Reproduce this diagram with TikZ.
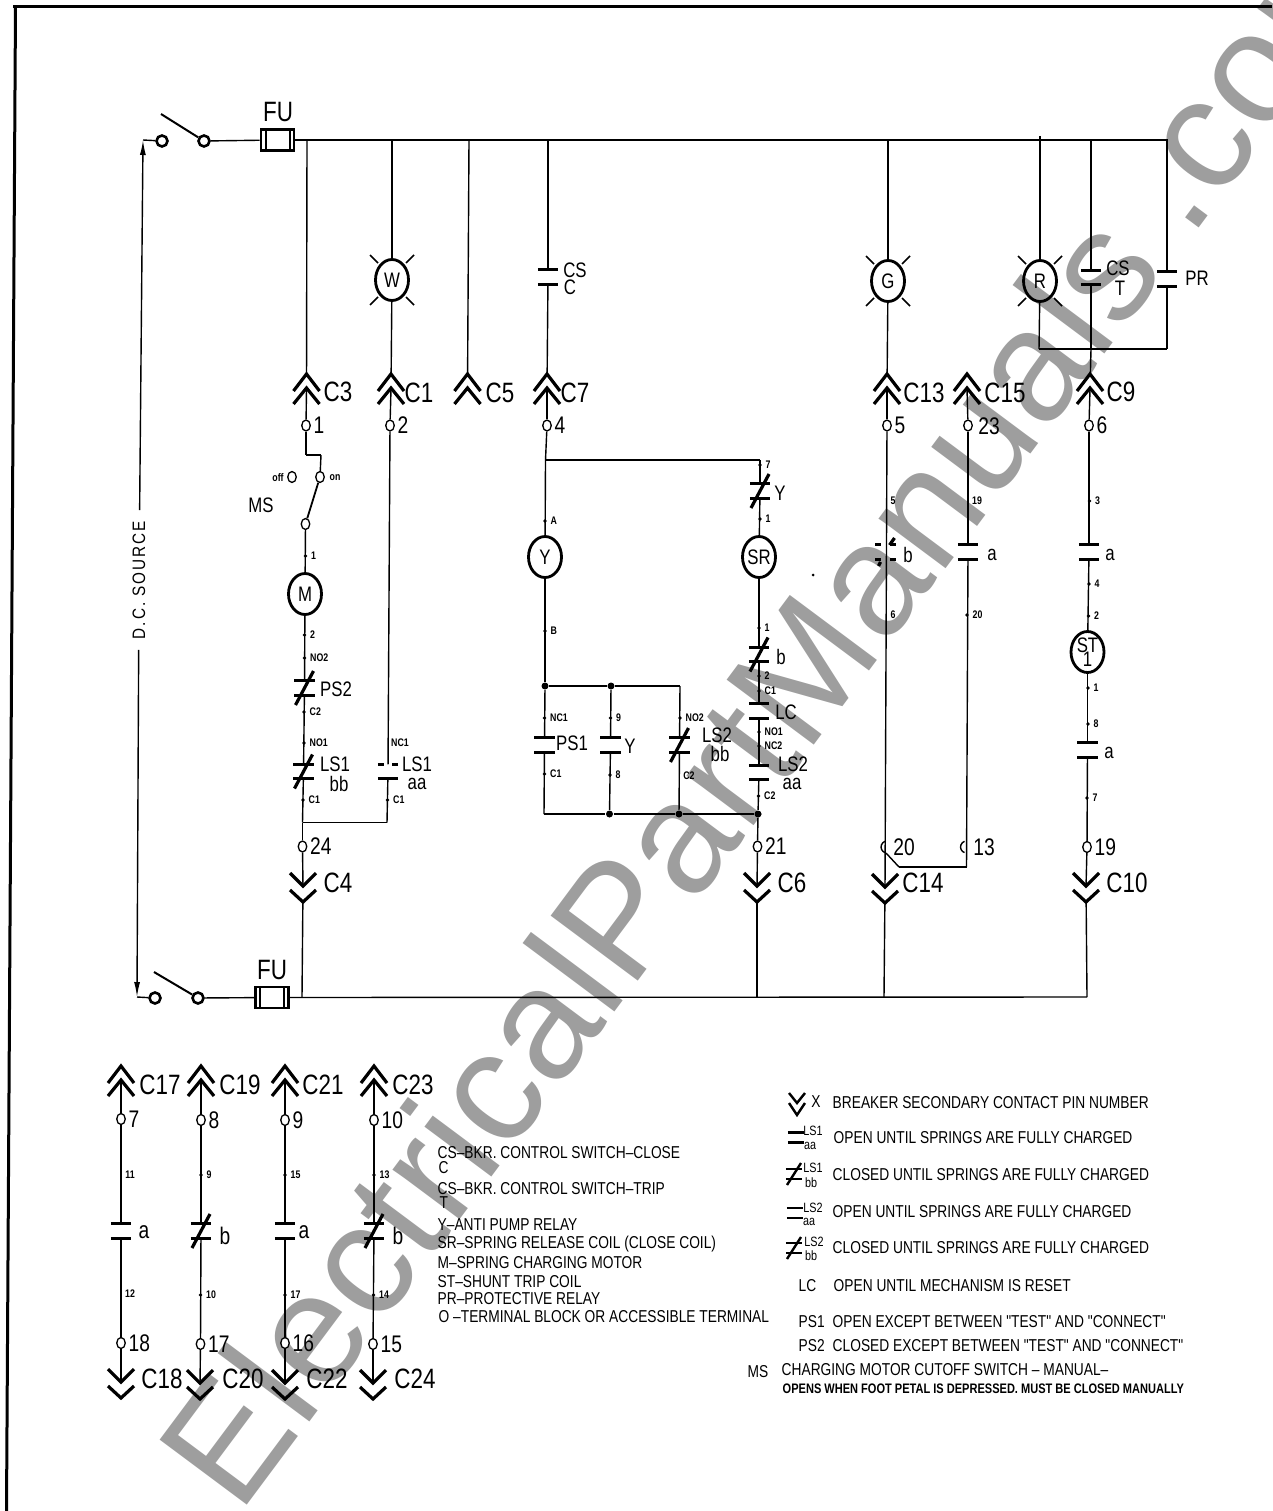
\documentclass[tikz,border=0pt]{standalone}
\usepackage{fontspec}
\setmainfont{Liberation Sans}
\newfontfamily\isofont[FakeStretch=0.8]{Liberation Sans}
\newfontfamily\markfont[LetterSpace=0.8]{Liberation Sans}
\newfontfamily\sidefont[FakeStretch=0.85,LetterSpace=11]{Liberation Sans}
\usetikzlibrary{shapes.geometric,arrows.meta}
\definecolor{markgray}{gray}{0.62}
\begin{document}
\begin{tikzpicture}[x=1pt, y=-1pt, line width=1.4pt, label distance=2pt,
	heavy/.style = {line width=3.2pt},
	lab/.style = {inner sep=0, font=\isofont\fontsize{28}{28}\selectfont},
	num/.style = {inner sep=0, font=\isofont\fontsize{24}{24}\selectfont},
	tag/.style = {inner sep=0, font=\isofont\fontsize{21}{21}\selectfont},
	pinl/.style = {inner sep=0.5pt, font=\isofont\bfseries\fontsize{11}{11}\selectfont},
	msg/.style = {anchor=west, inner sep=0, font=\isofont\fontsize{17.2}{17.2}\selectfont},
	smalltag/.style = {inner sep=0, font=\isofont\fontsize{13.5}{13.5}\selectfont},
	pindot/.style = {circle, fill, inner sep=0, minimum size=3.6pt},
	jdot/.style = {circle, fill, inner sep=0, minimum size=7pt},
	term/.style = {draw, ellipse, fill=white, inner sep=0, line width=1.3pt, minimum width=8.5pt, minimum height=11pt},
	swt/.style = {draw, circle, fill=white, inner sep=0, line width=2.6pt, minimum size=11pt},
	coil/.style = {draw, ellipse, inner sep=0, line width=2.8pt, minimum width=33pt, minimum height=41pt, align=center, font=\isofont\fontsize{21}{21}\selectfont},
	lamp/.style = {coil, append after command={\pgfextra{
		\draw[line width=1.7pt] (\tikzlastnode.center) +(-22,-25) -- +(-14,-17) +(22,-25) -- +(14,-17) +(-22,25) -- +(-14,17) +(22,25) -- +(14,17);}}},
	fuse/.style = {draw, rectangle, inner sep=0, line width=2.6pt, minimum width=33pt, minimum height=21pt, append after command={\pgfextra{
		\draw[line width=2pt] (\tikzlastnode.center) +(-12,-10) -- +(-12,10) +(12,-10) -- +(12,10);}}},
	make/.style = {inner sep=0, minimum width=19pt, minimum height=13pt, append after command={\pgfextra{
		\draw[heavy] (\tikzlastnode.north west) -- (\tikzlastnode.north east) (\tikzlastnode.south west) -- (\tikzlastnode.south east);}}},
	brk/.style = {make, append after command={\pgfextra{
		\draw[heavy] (\tikzlastnode.center) +(9,-17) -- +(-9,17);}}},
	opn/.style = {inner sep=0, minimum width=19pt, minimum height=13pt, append after command={\pgfextra{
		\draw[heavy] (\tikzlastnode.north west) -- +(6,0) (\tikzlastnode.north east) -- +(-6,0) (\tikzlastnode.south west) -- (\tikzlastnode.south east);}}},
	gapb/.style = {inner sep=0, minimum width=19pt, minimum height=13pt, append after command={\pgfextra{
		\draw[heavy] (\tikzlastnode.north west) -- +(6,0) (\tikzlastnode.north east) -- +(-6,0) (\tikzlastnode.south west) -- +(6,0) (\tikzlastnode.south east) -- +(-6,0);
		\draw[heavy] (\tikzlastnode.center) +(9,-14) -- +(4,-7) +(-5,10) -- +(-7,14);}}},
	lgmake/.style = {inner sep=0, minimum width=15pt, minimum height=8.5pt, append after command={\pgfextra{
		\draw[line width=2.4pt] (\tikzlastnode.north west) -- (\tikzlastnode.north east) (\tikzlastnode.south west) -- (\tikzlastnode.south east);}}},
	lgbrk/.style = {lgmake, append after command={\pgfextra{
		\draw[line width=2.4pt] (\tikzlastnode.center) +(7,-11) -- +(-7,11);}}},
	chup/.style = {inner sep=0, minimum width=26pt, minimum height=30pt, append after command={\pgfextra{
		\draw[heavy] (\tikzlastnode.center) +(-13,2) -- +(0,-15) -- +(13,2) +(-13,15) -- +(0,-1) -- +(13,15);}}},
	chdn/.style = {inner sep=0, minimum width=26pt, minimum height=30pt, append after command={\pgfextra{
		\draw[heavy] (\tikzlastnode.center) +(-13,-14) -- +(0,-1) -- +(13,-14) +(-13,3) -- +(0,15) -- +(13,3);}}},
	lgdn/.style = {inner sep=0, minimum width=18pt, minimum height=22pt, append after command={\pgfextra{
		\draw[line width=2.4pt] (\tikzlastnode.center) +(-8,-11) -- +(0,-1) -- +(8,-11) +(-8,-1) -- +(0,11) -- +(8,-1);}}}]
	\useasboundingbox (0,0) rectangle (1272,1511);
	% watermark
	\begin{scope}
		\clip (0,0) rectangle (1272,1511);
		\node[anchor=base west, inner sep=0, rotate=53.3, text=markgray, font=\markfont\fontsize{158}{158}\selectfont] (wm) at (239.4,1516) {ElectricalPartManuals\kern38pt.com};
	\end{scope}
	% sheet edge
	\coordinate (fr1) at (1272,6.5);
	\coordinate (fr2) at (13,6.5);
	\coordinate (fr3) at (6.5,1511);
	\draw[line width=3pt] (fr1) -- (fr2);
	\draw[line width=3pt] (15.5,6.5) -- (fr3);
	% top source line
	\node[swt] (sw1a) at (162,141) {};
	\node[swt] (sw1b) at (204,141) {};
	\coordinate (sw1c) at (161,114);
	\draw[line width=2pt] (sw1c) -- (sw1b);
	\coordinate (src1) at (143,140);
	\coordinate (src2) at (137,997);
	\node[fuse] (fu1) at (277.5,140) {};
	\node[lab] (fu1t) at (278,112) {FU};
	\coordinate (bus1e) at (1168,140);
	\draw (src1) -- (sw1a);
	\draw (sw1b) -- (fu1);
	\draw (fu1) -- (bus1e);
	\node[rotate=90, inner sep=10pt, font=\sidefont\fontsize{18}{18}\selectfont] (dcs) at (139,580) {D.C. SOURCE};
	\draw[{Latex[length=15pt,width=6pt]}-] (src1) -- (dcs);
	\draw[-{Latex[length=15pt,width=6pt]}] (dcs) -- (src2);
	% bottom source line
	\node[swt] (sw2a) at (155,998) {};
	\node[swt] (sw2b) at (198,998) {};
	\coordinate (sw2c) at (154,972);
	\draw[line width=2pt] (sw2c) -- (sw2b);
	\node[fuse] (fu2) at (272,997.5) {};
	\node[lab] (fu2t) at (272,970) {FU};
	\coordinate (bus2e) at (1087,997);
	\draw (src2) -- (sw2a);
	\draw (sw2b) -- (fu2);
	\draw (fu2) -- (bus2e);
	% motor branch
	\coordinate (b3) at (307,140);
	\node[chup] (c3) at (306.5,389) {};
	\node[lab] (c3t) at (338,392) {C3};
	\node[term, label={[num]right:1}] (t1) at (306,425.5) {};
	\coordinate (jog3a) at (306,455);
	\coordinate (jog3b) at (321,455);
	\node[term] (ton) at (320,477) {};
	\node[term] (toff) at (292,477) {};
	\node[term] (tms) at (305.5,524) {};
	\node[pinl] (ontx) at (335,478) {on};
	\node[pinl] (offtx) at (278,478) {off};
	\node[tag] (mst) at (261,505) {MS};
	\node[coil] (m) at (305,594) {M};
	\node[pindot, label={[pinl]right:1}] (pm1) at (305.5,556) {};
	\node[pindot, label={[pinl]right:2}] (pm2) at (304.5,635) {};
	\node[pindot, label={[pinl]right:NO2}] (pm3) at (304.5,658) {};
	\node[brk] (ps2) at (304.5,688) {};
	\node[tag] (ps2t) at (336,689) {PS2};
	\node[pindot, label={[pinl]right:C2}] (pm4) at (304,712) {};
	\node[pindot, label={[pinl]right:NO1}] (pm5) at (304,743) {};
	\node[brk] (ls1b) at (303.5,771.5) {};
	\node[tag] (ls1bt) at (335,764) {LS1};
	\node[tag] (ls1bu) at (339,784) {bb};
	\node[pindot, label={[pinl]right:C1}] (pm6) at (303,800) {};
	\coordinate (j24) at (302.5,822.5);
	\node[term, label={[num]right:24}] (t24) at (302.5,846.5) {};
	\node[chdn] (c4) at (303,887) {};
	\node[lab] (c4t) at (338,883) {C4};
	\coordinate (b4) at (302,997);
	\draw (b3) -- (c3);
	\draw (c3.center) -- (t1);
	\draw (t1) -- (jog3a);
	\draw (jog3a) -- (jog3b);
	\draw (jog3b) -- (ton);
	\draw[line width=1.8pt] (ton) -- (tms);
	\draw (tms) -- (m);
	\draw (m) -- (ps2);
	\draw (ps2) -- (ls1b);
	\draw (ls1b) -- (j24);
	\draw (j24) -- (t24);
	\draw (t24) -- (c4.center);
	\draw (c4) -- (b4);
	% white lamp branch
	\coordinate (b1) at (392,140);
	\node[lamp] (w) at (392,280) {W};
	\node[chup] (c1) at (391,389) {};
	\node[lab] (c1t) at (419,393) {C1};
	\node[term, label={[num]right:2}] (t2) at (390,425.5) {};
	\node[opn] (ls1a) at (388,771.5) {};
	\node[tag] (ls1at) at (417,764) {LS1};
	\node[tag] (ls1au) at (417,784) {aa};
	\node[pinl] (pw1) at (400,743) {NC1};
	\node[pindot, label={[pinl]right:C1}] (pw2) at (387.5,800) {};
	\coordinate (jw) at (387,822.5);
	\draw (b1) -- (w);
	\draw (w) -- (c1);
	\draw (c1.center) -- (t2);
	\draw (t2) -- (ls1a);
	\draw (ls1a) -- (jw);
	\draw (jw) -- (j24);
	% C5 branch
	\coordinate (b5) at (469,140);
	\node[chup] (c5) at (467.5,389) {};
	\node[lab] (c5t) at (500,393) {C5};
	\draw (b5) -- (c5);
	% closing branch
	\coordinate (b7) at (548,140);
	\node[make] (csc) at (548,277) {};
	\node[tag] (csct) at (575,270) {CS};
	\node[tag] (cscu) at (570,287) {C};
	\node[chup] (c7) at (547,389) {};
	\node[lab] (c7t) at (575,393) {C7};
	\node[term, label={[num]right:4}] (t4) at (547,425.5) {};
	\coordinate (j7) at (545.5,460);
	\coordinate (j7r) at (760,460);
	\node[pindot, label={[pinl]right:7}] (py1) at (760,465) {};
	\node[brk] (ycon) at (760,491) {};
	\node[tag] (ycont) at (780,493) {Y};
	\node[pindot, label={[pinl]right:1}] (py2) at (760,519) {};
	\node[coil] (sr) at (759,557) {SR};
	\node[pindot, label={[pinl]right:1}] (py3) at (759,628) {};
	\node[brk] (srb) at (759,654.5) {};
	\node[tag] (srbt) at (781,657) {b};
	\node[pindot, label={[pinl]right:2}] (py4) at (759,676) {};
	\node[pindot, label={[pinl]right:C1}] (py5) at (759,691) {};
	\node[make] (lc) at (759,711) {};
	\node[tag] (lct) at (786,712) {LC};
	\node[pindot, label={[pinl]right:NO1}] (py6) at (759,732) {};
	\node[pindot, label={[pinl]right:NC2}] (py7) at (759,746) {};
	\node[make] (ls2a) at (759,772.5) {};
	\node[tag] (ls2at) at (793,764) {LS2};
	\node[tag] (ls2au) at (792,784) {aa};
	\node[pindot, label={[pinl]right:C2}] (py8) at (758.5,796) {};
	\node[jdot] (j21) at (758,814) {};
	\node[term, label={[num]right:21}] (t21) at (757.5,846.5) {};
	\node[chdn] (c6) at (757,887) {};
	\node[lab] (c6t) at (792,883) {C6};
	\coordinate (b6) at (757,997);
	\node[coil] (y) at (545,557) {Y};
	\node[pindot, label={[pinl]right:A}] (pa) at (545,521) {};
	\node[pindot, label={[pinl]right:B}] (pb) at (545,631) {};
	\node[jdot] (jy1) at (545,686) {};
	\node[jdot] (jy2) at (611,686) {};
	\coordinate (jy3) at (680,686);
	\node[pindot, label={[pinl]right:NC1}] (pp1) at (544.5,718) {};
	\node[make] (ps1) at (544.5,745) {};
	\node[tag] (ps1t) at (572,743) {PS1};
	\node[pindot, label={[pinl]right:C1}] (pp2) at (544.5,774) {};
	\coordinate (jb1) at (544,814);
	\node[pindot, label={[pinl]right:9}] (pq1) at (610.5,718) {};
	\node[make] (yc2) at (610.5,745) {};
	\node[tag] (yc2t) at (630,746) {Y};
	\node[pindot, label={[pinl]right:8}] (pq2) at (610,775) {};
	\node[jdot] (jb2) at (609.5,814) {};
	\node[pindot, label={[pinl]right:NO2}] (pr1) at (680,718) {};
	\node[brk] (ls2b) at (679.5,745) {};
	\node[tag] (ls2bt) at (717,735) {LS2};
	\node[tag] (ls2bu) at (720,754) {bb};
	\node[pinl] (pr2) at (689,776) {C2};
	\node[jdot] (jb3) at (679,814) {};
	\draw (b7) -- (csc);
	\draw (csc) -- (c7);
	\draw (c7.center) -- (t4);
	\draw (t4) -- (j7);
	\draw (j7) -- (j7r);
	\draw (j7r) -- (ycon);
	\draw (ycon) -- (sr);
	\draw (sr) -- (srb);
	\draw (srb) -- (lc);
	\draw (lc) -- (ls2a);
	\draw (ls2a) -- (j21);
	\draw (j21) -- (t21);
	\draw (t21) -- (c6.center);
	\draw (c6) -- (b6);
	\draw (j7) -- (y);
	\draw (y) -- (jy1);
	\draw (jy1) -- (jy2);
	\draw (jy2) -- (jy3);
	\draw (jy1) -- (ps1);
	\draw (ps1) -- (jb1);
	\draw (jy2) -- (yc2);
	\draw (yc2) -- (jb2);
	\draw (jy3) -- (ls2b);
	\draw (ls2b) -- (jb3);
	\draw (jb1) -- (jb2);
	\draw (jb2) -- (jb3);
	\draw (jb3) -- (j21);
	\node[circle, fill, inner sep=0, minimum size=3pt] (spk) at (813,575) {};
	% green lamp branch
	\coordinate (b13) at (888,140);
	\node[lamp] (g) at (888,281) {G};
	\node[chup] (c13) at (887,389) {};
	\node[lab] (c13t) at (924,393) {C13};
	\node[term, label={[num]right:5}] (t5) at (887,425.5) {};
	\node[pinl] (pg1) at (893,501) {5};
	\node[gapb] (gb) at (885.5,552) {};
	\node[tag] (gbt) at (908,555) {b};
	\node[pinl] (pg2) at (893,615) {6};
	\node[chdn] (c14) at (885,888) {};
	\node[lab] (c14t) at (923,883) {C14};
	\node[num] (t20t) at (904,847) {20};
	\coordinate (t20a) at (886,853);
	\coordinate (b14) at (884,997);
	\draw (b13) -- (g);
	\draw (g) -- (c13);
	\draw (c13.center) -- (t5);
	\draw (t5) -- (c14.center);
	\draw (c14) -- (b14);
	\draw (885,852.6) arc (110:250:6);
	% C15 branch
	\node[chup] (c15) at (967,389) {};
	\node[lab] (c15t) at (1005,393) {C15};
	\node[term] (t23) at (968,425.5) {};
	\node[num] (t23t) at (989,426) {23};
	\node[pinl] (pc1) at (977,501) {19};
	\node[make] (cona) at (968,552) {};
	\node[tag] (conat) at (992,555) {a};
	\node[pindot, label={[pinl]right:20}] (pc2) at (967,615) {};
	\node[num] (t13t) at (984,847) {13};
	\coordinate (j13) at (966.5,867);
	\coordinate (j13b) at (899,867);
	\draw (c15.center) -- (t23);
	\draw (t23) -- (cona);
	\draw (cona) -- (j13);
	\draw (j13) -- (j13b);
	\draw (j13b) -- (t20a);
	\draw (964.5,852.6) arc (110:250:6);
	% red lamp and trip branch
	\coordinate (b9a) at (1040,136);
	\coordinate (b9b) at (1091,140);
	\coordinate (b9c) at (1167,140);
	\node[lamp] (r) at (1040,281) {R};
	\node[make] (cst) at (1091,277.5) {};
	\node[tag] (cstt) at (1118,268) {CS};
	\node[tag] (cstu) at (1120,288) {T};
	\node[make] (pr) at (1167,279) {};
	\node[tag] (prt) at (1197,278) {PR};
	\coordinate (jr1) at (1039,349);
	\coordinate (jr2) at (1091,349);
	\coordinate (jr3) at (1167,349);
	\node[chup] (c9) at (1090,389) {};
	\node[lab] (c9t) at (1121,392) {C9};
	\node[term, label={[num]right:6}] (t6) at (1089,425.5) {};
	\node[pindot, label={[pinl]right:3}] (ps3) at (1089.5,501) {};
	\node[make] (st1a) at (1089,552) {};
	\node[tag] (st1at) at (1110,555) {a};
	\node[pindot, label={[pinl]right:4}] (ps4) at (1089,584) {};
	\node[pindot, label={[pinl]right:2}] (ps5) at (1088.5,616) {};
	\node[coil] (st) at (1087.5,652) {ST\\[-7pt]1};
	\node[pindot, label={[pinl]right:1}] (ps6) at (1088,688) {};
	\node[pindot, label={[pinl]right:8}] (ps7) at (1088,724) {};
	\node[make] (st1b) at (1087.5,750) {};
	\node[tag] (st1bt) at (1109,753) {a};
	\node[pindot, label={[pinl]right:7}] (ps8) at (1087,798) {};
	\node[term, label={[num]right:19}] (t19) at (1087,847) {};
	\node[chdn] (c10) at (1086,887) {};
	\node[lab] (c10t) at (1127,883) {C10};
	\draw (b9a) -- (r);
	\draw (r) -- (jr1);
	\draw (b9b) -- (cst);
	\draw (cst) -- (jr2);
	\draw (b9c) -- (pr);
	\draw (pr) -- (jr3);
	\draw (jr1) -- (jr3);
	\draw (jr2) -- (c9);
	\draw (c9.center) -- (t6);
	\draw (t6) -- (st1a);
	\draw (st1a) -- (st);
	\draw (st) -- (st1b);
	\draw (st1b) -- (t19);
	\draw (t19) -- (c10.center);
	\draw (c10) -- (bus2e);
	% spare contacts
	\node[chup] (c17) at (121,1081) {};
	\node[lab] (c17t) at (160,1085) {C17};
	\node[term, label={[num]right:7}] (t7) at (121,1119) {};
	\node[pinl] (a11) at (130,1175) {11};
	\node[make] (ca1) at (121,1231) {};
	\node[num] (ca1t) at (144,1232) {a};
	\node[pinl] (a12) at (130,1294) {12};
	\node[term, label={[num]right:18}] (t18) at (121,1343) {};
	\node[chdn] (c18) at (121,1383) {};
	\node[lab] (c18t) at (162,1379) {C18};
	\draw (c17.center) -- (t7);
	\draw (t7) -- (ca1);
	\draw (ca1) -- (t18);
	\draw (t18) -- (c18.center);
	\node[chup] (c19) at (201,1081) {};
	\node[lab] (c19t) at (240,1085) {C19};
	\node[term, label={[num]right:8}] (t8) at (201,1120) {};
	\node[pindot, label={[pinl]right:9}] (a9) at (201,1175) {};
	\node[brk] (ca2) at (201,1231) {};
	\node[num] (ca2t) at (225,1236) {b};
	\node[pindot, label={[pinl]right:10}] (a10) at (200.5,1295) {};
	\node[term, label={[num]right:17}] (t17) at (200.5,1344) {};
	\node[chdn] (c20) at (200,1384) {};
	\node[lab] (c20t) at (243,1379) {C20};
	\draw (c19.center) -- (t8);
	\draw (t8) -- (ca2);
	\draw (ca2) -- (t17);
	\draw (t17) -- (c20.center);
	\node[chup] (c21) at (285,1081) {};
	\node[lab] (c21t) at (323,1085) {C21};
	\node[term, label={[num]right:9}] (t9) at (285,1120) {};
	\node[pindot, label={[pinl]right:15}] (a15) at (285,1175) {};
	\node[make] (ca3) at (285,1231) {};
	\node[num] (ca3t) at (304,1232) {a};
	\node[pindot, label={[pinl]right:17}] (a17) at (285,1295) {};
	\node[term, label={[num]right:16}] (t16) at (285,1343) {};
	\node[chdn] (c22) at (285,1384) {};
	\node[lab] (c22t) at (327,1379) {C22};
	\draw (c21.center) -- (t9);
	\draw (t9) -- (ca3);
	\draw (ca3) -- (t16);
	\draw (t16) -- (c22.center);
	\node[chup] (c23) at (374,1081) {};
	\node[lab] (c23t) at (413,1085) {C23};
	\node[term, label={[num]right:10}] (t10) at (374,1120) {};
	\node[pindot, label={[pinl]right:13}] (a13) at (374,1175) {};
	\node[brk] (ca4) at (374,1231) {};
	\node[num] (ca4t) at (398,1236) {b};
	\node[pindot, label={[pinl]right:14}] (a14) at (373.5,1295) {};
	\node[term, label={[num]right:15}] (t15) at (373,1344) {};
	\node[chdn] (c24) at (373,1384) {};
	\node[lab] (c24t) at (415,1379) {C24};
	\draw (c23.center) -- (t10);
	\draw (t10) -- (ca4);
	\draw (ca4) -- (t15);
	\draw (t15) -- (c24.center);
	% device list
	\node[msg] (n1) at (437,1153) {CS–BKR. CONTROL SWITCH–CLOSE};
	\node[msg] (n1b) at (438,1168) {C};
	\node[msg] (n2) at (437,1189) {CS–BKR. CONTROL SWITCH–TRIP};
	\node[msg] (n2b) at (439,1203) {T};
	\node[msg] (n3) at (437,1225) {Y–ANTI PUMP RELAY};
	\node[msg] (n4) at (437,1244) {SR–SPRING RELEASE COIL (CLOSE COIL)};
	\node[msg] (n5) at (437,1263) {M–SPRING CHARGING MOTOR};
	\node[msg] (n6) at (437,1282) {ST–SHUNT TRIP COIL};
	\node[msg] (n7) at (437,1299) {PR–PROTECTIVE RELAY};
	\node[msg] (n8) at (438,1317) {O –TERMINAL BLOCK OR ACCESSIBLE TERMINAL};
	% key
	\node[lgdn] (k1) at (797,1104) {};
	\node[msg, anchor=center] (k1t) at (816,1102) {X};
	\node[msg] (k1m) at (832,1103) {BREAKER SECONDARY CONTACT PIN NUMBER};
	\node[lgmake] (k2) at (796,1137.5) {};
	\node[smalltag] (k2t) at (813,1131) {LS1};
	\node[smalltag] (k2u) at (810,1146) {aa};
	\node[msg] (k2m) at (833,1138) {OPEN UNTIL SPRINGS ARE FULLY CHARGED};
	\node[lgbrk] (k3) at (794,1174) {};
	\node[smalltag] (k3t) at (813,1168) {LS1};
	\node[smalltag] (k3u) at (811,1183) {bb};
	\node[msg] (k3m) at (832,1175) {CLOSED UNTIL SPRINGS ARE FULLY CHARGED};
	\node[lgmake] (k4) at (795,1213) {};
	\node[smalltag] (k4t) at (813,1208) {LS2};
	\node[smalltag] (k4u) at (809,1222) {aa};
	\node[msg] (k4m) at (832,1212) {OPEN UNTIL SPRINGS ARE FULLY CHARGED};
	\node[lgbrk] (k5) at (794,1248) {};
	\node[smalltag] (k5t) at (814,1242) {LS2};
	\node[smalltag] (k5u) at (811,1256) {bb};
	\node[msg] (k5m) at (832,1248) {CLOSED UNTIL SPRINGS ARE FULLY CHARGED};
	\node[msg] (k6) at (798,1286) {LC};
	\node[msg] (k6m) at (833,1286) {OPEN UNTIL MECHANISM IS RESET};
	\node[msg] (k7) at (798,1322) {PS1};
	\node[msg] (k7m) at (832,1322) {OPEN EXCEPT BETWEEN "TEST" AND "CONNECT"};
	\node[msg] (k8) at (798,1346) {PS2};
	\node[msg] (k8m) at (832,1346) {CLOSED EXCEPT BETWEEN "TEST" AND "CONNECT"};
	\node[msg] (k9) at (747,1372) {MS};
	\node[msg] (k9m) at (781,1370) {CHARGING MOTOR CUTOFF SWITCH – MANUAL–};
	\node[anchor=west, inner sep=0, font=\isofont\bfseries\fontsize{13.8}{13.8}\selectfont] (k10) at (782,1389) {OPENS WHEN FOOT PETAL IS DEPRESSED. MUST BE CLOSED MANUALLY};
\end{tikzpicture}
\end{document}
